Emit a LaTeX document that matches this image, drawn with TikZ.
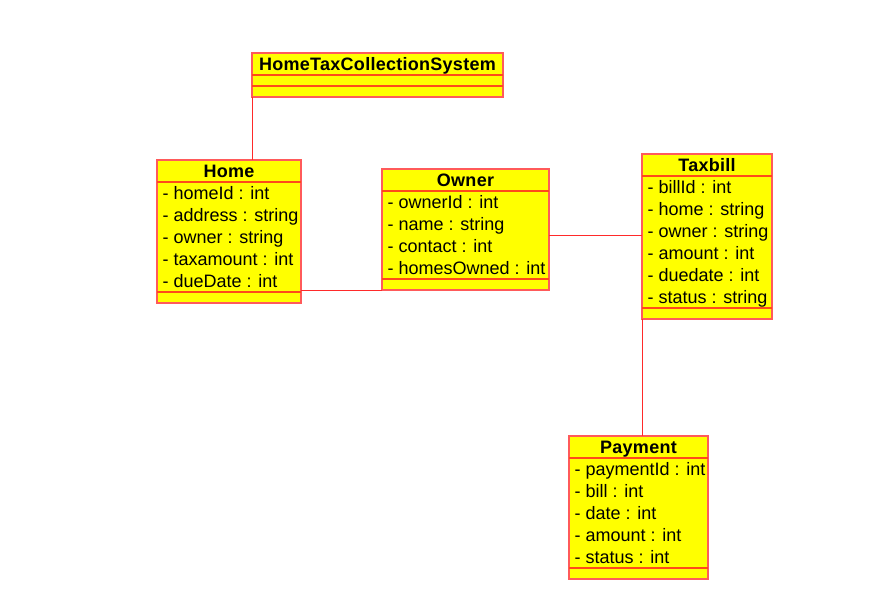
\documentclass[tikz,border=0pt]{standalone}
\usepackage{fontspec}
\setmainfont{Liberation Sans}
\usetikzlibrary{calc}
\definecolor{boxborder}{HTML}{FF5A5A}
\definecolor{sepline}{HTML}{FF4A1A}
\definecolor{conn}{HTML}{FF2A2A}
\definecolor{boxfill}{HTML}{FFFF00}
\newfontfamily\attrfont{Liberation Sans}
\newfontfamily\titlefont[LetterSpace=1.5]{Liberation Sans Bold}
\tikzset{
  cls/.style={draw=boxborder, fill=boxfill, line width=1.1pt, anchor=north west, inner sep=0pt, outer sep=0pt},
  sepl/.style={draw=sepline, line width=1.1pt},
  clstitle/.style={inner sep=0pt, font=\titlefont\fontsize{18}{20}\selectfont, anchor=base},
  clsattr/.style={inner sep=0pt, font=\attrfont\fontsize{18}{20}\selectfont, anchor=base west},
  connector/.style={draw=conn, line width=1pt}
}
% #1 name, #2 x, #3 y, #4 width, #5 title, #6 number of attributes, #7 attributes
\newcommand\umlclassbox[7]{%
  \pgfmathsetmacro\clsah{max(22*#6,11)}%
  \pgfmathsetmacro\clsh{22+\clsah+11}%
  \node[cls, minimum width=#4pt, minimum height=\clsh pt] (#1) at (#2,#3) {};
  \draw[sepl] (#2,#3+22) -- (#2+#4,#3+22);
  \draw[sepl] (#2,#3+22+\clsah) -- (#2+#4,#3+22+\clsah);
  \node[clstitle] (#1-title) at (#2+#4/2,#3+17.3) {#5};
  \ifnum#6>0
  \foreach \a [count=\i] in {#7} {
    \node[clsattr] (#1-a\i) at (#2+5.5,#3+22+17.2+22*\i-22) {\a};
  }
  \fi
}
\begin{document}
\begin{tikzpicture}[x=1pt,y=-1pt]
\useasboundingbox (0,0) rectangle (870,604);
\umlclassbox{htcs}{252}{53}{251}{HomeTaxCollectionSystem}{0}{}
\umlclassbox{home}{157}{160}{144}{Home}{5}{- homeId : int, - address : string, - owner : string, - taxamount : int, - dueDate : int}
\umlclassbox{owner}{382}{169}{167}{Owner}{4}{- ownerId : int, - name : string, - contact : int, - homesOwned : int}
\umlclassbox{taxbill}{642}{154}{130}{Taxbill}{6}{- billId : int, - home : string, - owner : string, - amount : int, - duedate : int, - status : string}
\umlclassbox{payment}{569}{436}{139}{Payment}{5}{- paymentId : int, - bill : int, - date : int, - amount : int, - status : int}
\coordinate (otline) at (0,236);
\draw[connector] (htcs.south west) -- (htcs.south west |- home.north);
\draw[connector] (owner.south west) -- (owner.south west -| home.east);
\draw[connector] (owner.east |- otline) -- (taxbill.west |- otline);
\draw[connector] (taxbill.south west) -- (taxbill.south west |- payment.north);
\end{tikzpicture}
\end{document}
